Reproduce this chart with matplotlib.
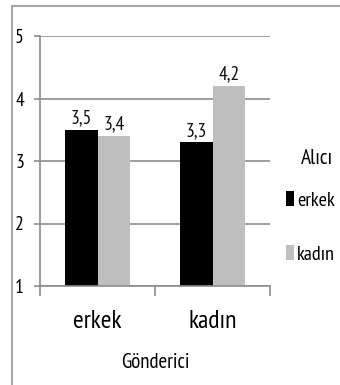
import matplotlib
matplotlib.use("Agg")
import matplotlib.pyplot as plt
from matplotlib.patches import Rectangle
import numpy as np

# Data: mean scores by sender (Gönderici) and receiver (Alıcı)
senders = ["erkek", "kadın"]
receivers = ["erkek", "kadın"]
scores_receiver_erkek = [3.5, 3.3]
scores_receiver_kadin = [3.4, 4.2]
y_ticks = [1, 2, 3, 4, 5]

plt.rcParams["font.family"] = ["PT Sans Narrow", "DejaVu Sans"]

fig = plt.figure(figsize=(3.4, 3.85), dpi=100)
fig.patch.set_facecolor("white")

# outer chart frame
fig.add_artist(Rectangle((12 / 340, -0.01), 1.0, 1 - 6 / 385 + 0.01,
                         transform=fig.transFigure, fill=False,
                         edgecolor="#a6a6a6", linewidth=1.5))

ax = fig.add_axes([40 / 340, 1 - 286 / 385, 230 / 340, 250 / 385])
x = np.arange(len(senders))
w = 0.283
b1 = ax.bar(x - w / 2, np.array(scores_receiver_erkek) - 1, w, bottom=1,
            color="#000000", label=receivers[0])
b2 = ax.bar(x + w / 2, np.array(scores_receiver_kadin) - 1, w, bottom=1,
            color="#bfbfbf", label=receivers[1])

for bars, vals in ((b1, scores_receiver_erkek), (b2, scores_receiver_kadin)):
    for r, v in zip(bars, vals):
        ax.text(r.get_x() + r.get_width() / 2, v + 0.04,
                f"{v:.1f}".replace(".", ","), ha="center", va="bottom",
                fontsize=14, color="#111111")

ax.set_xlim(-0.5, 1.5)
ax.set_ylim(1, 5)
ax.set_yticks(y_ticks)
ax.set_yticklabels([str(t) for t in y_ticks], fontsize=14)
ax.yaxis.grid(True, color="#8c8c8c", linewidth=1.2)
ax.set_axisbelow(True)
ax.tick_params(axis="y", length=4.5, color="#8c8c8c", width=1.2, pad=7)

ax.set_xticks(x)
ax.set_xticklabels(senders, fontsize=18.5)
ax.set_xticks([-0.5, 0.5, 1.5], minor=True)
ax.tick_params(axis="x", which="major", length=0, pad=17)
ax.tick_params(axis="x", which="minor", length=7, color="#8c8c8c", width=1.2)
ax.set_xlabel("Gönderici", fontsize=15, labelpad=15)

for s in ("top", "right"):
    ax.spines[s].set_visible(False)
for s in ("left", "bottom"):
    ax.spines[s].set_color("#8c8c8c")
    ax.spines[s].set_linewidth(1.2)

fig.text(317 / 340, 1 - 158 / 385, "Alıcı", ha="center", va="center", fontsize=15.5)
leg = ax.legend(handles=[b1, b2], labels=receivers, loc="upper left",
                bbox_to_anchor=(286 / 340, 1 - 191 / 385),
                bbox_transform=fig.transFigure, frameon=False, fontsize=14.5,
                handlelength=0.4, handleheight=0.8, handletextpad=0.15,
                labelspacing=1.75, borderaxespad=0, borderpad=0)

fig.savefig("out.png", dpi=100, facecolor="white")
